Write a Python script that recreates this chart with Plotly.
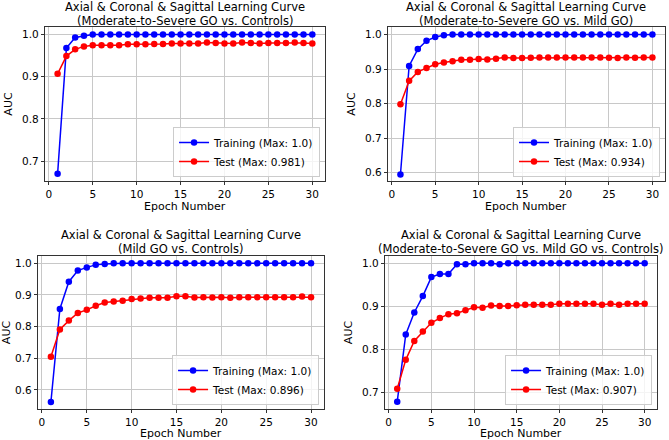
import plotly.graph_objects as go

epochs = list(range(1, 31))

title_line1 = "Axial & Coronal & Sagittal Learning Curve"
title_line2 = [
    "(Moderate-to-Severe GO vs. Controls)",
    "(Moderate-to-Severe GO vs. Mild GO)",
    "(Mild GO vs. Controls)",
    "(Moderate-to-Severe GO vs. Mild GO vs. Controls)",
]

train_1 = [0.670, 0.968, 0.993, 0.997, 1.0, 1.0, 1.0, 1.0, 1.0, 1.0, 1.0, 1.0, 1.0, 1.0, 1.0,
           1.0, 1.0, 1.0, 1.0, 1.0, 1.0, 1.0, 1.0, 1.0, 1.0, 1.0, 1.0, 1.0, 1.0, 1.0]
test_1 = [0.907, 0.949, 0.965, 0.972, 0.975, 0.975, 0.975, 0.975, 0.977, 0.977, 0.977, 0.978,
          0.978, 0.979, 0.979, 0.979, 0.979, 0.981, 0.980, 0.979, 0.979, 0.981, 0.980, 0.979,
          0.980, 0.980, 0.980, 0.981, 0.980, 0.979]

train_2 = [0.595, 0.909, 0.958, 0.982, 0.993, 0.998, 1.0, 1.0, 1.0, 1.0, 1.0, 1.0, 1.0, 1.0, 1.0,
           1.0, 1.0, 1.0, 1.0, 1.0, 1.0, 1.0, 1.0, 1.0, 1.0, 1.0, 1.0, 1.0, 1.0, 1.0]
test_2 = [0.798, 0.866, 0.892, 0.903, 0.914, 0.919, 0.923, 0.927, 0.927, 0.929, 0.928, 0.930,
          0.934, 0.932, 0.932, 0.933, 0.934, 0.934, 0.934, 0.934, 0.934, 0.934, 0.934, 0.934,
          0.933, 0.932, 0.934, 0.933, 0.934, 0.934]

train_3 = [0.562, 0.856, 0.942, 0.977, 0.987, 0.995, 0.998, 1.0, 1.0, 1.0, 1.0, 1.0, 1.0, 1.0, 1.0,
           1.0, 1.0, 1.0, 1.0, 1.0, 1.0, 1.0, 1.0, 1.0, 1.0, 1.0, 1.0, 1.0, 1.0, 1.0]
test_3 = [0.705, 0.791, 0.819, 0.843, 0.853, 0.866, 0.876, 0.879, 0.882, 0.887, 0.889, 0.891,
          0.891, 0.891, 0.896, 0.896, 0.892, 0.893, 0.892, 0.893, 0.891, 0.893, 0.893, 0.893,
          0.893, 0.893, 0.893, 0.893, 0.895, 0.893]

train_4 = [0.679, 0.835, 0.886, 0.924, 0.968, 0.975, 0.975, 0.998, 0.998, 1.0, 1.0, 1.0, 0.998,
           1.0, 1.0, 1.0, 1.0, 1.0, 1.0, 1.0, 1.0, 1.0, 1.0, 1.0, 1.0, 1.0, 1.0, 1.0, 1.0, 1.0]
test_4 = [0.709, 0.776, 0.820, 0.842, 0.862, 0.873, 0.882, 0.884, 0.891, 0.898, 0.897, 0.902,
          0.901, 0.901, 0.903, 0.904, 0.904, 0.904, 0.904, 0.906, 0.906, 0.906, 0.906, 0.906,
          0.904, 0.906, 0.904, 0.906, 0.906, 0.906]

train_max = ["1.0", "1.0", "1.0", "1.0"]
test_max = ["0.981", "0.934", "0.896", "0.907"]

trains = [train_1, train_2, train_3, train_4]
tests = [test_1, test_2, test_3, test_4]

W, H = 669, 440
# plot areas in pixels: (left, right, top, bottom)
boxes = [(43, 324, 27, 181), (387, 665, 27, 181), (36, 323, 256, 409), (384, 657, 256, 409)]
# title line centres and x-axis title centre, in pixels
title_y = [(7, 21), (7, 21), (235, 249), (235, 249)]
xlabel_y = [206, 206, 433, 433]
yranges = [[0.653, 1.018], [0.576, 1.022], [0.540, 1.023], [0.662, 1.017]]
yticks = [[0.7, 0.8, 0.9, 1.0], [0.6, 0.7, 0.8, 0.9, 1.0],
          [0.6, 0.7, 0.8, 0.9, 1.0], [0.7, 0.8, 0.9, 1.0]]

FONT = "DejaVu Sans"
fig = go.Figure()
layout = dict(
    width=W, height=H, margin=dict(l=0, r=0, t=0, b=0),
    paper_bgcolor="white", plot_bgcolor="white",
    font=dict(family=FONT, size=11, color="black"),
    annotations=[],
)

for i in range(4):
    n = "" if i == 0 else str(i + 1)
    L, R, T, B = boxes[i]
    xd = [L / W, R / W]
    yd = [1 - B / H, 1 - T / H]
    leg = "legend" if i == 0 else f"legend{i + 1}"
    fig.add_trace(go.Scatter(
        x=epochs, y=trains[i], mode="lines+markers",
        name=f"Training (Max: {train_max[i]})",
        line=dict(color="#0000ff", width=1.5), marker=dict(color="#0000ff", size=6.5),
        xaxis="x" + n, yaxis="y" + n, legend=leg,
    ))
    fig.add_trace(go.Scatter(
        x=epochs, y=tests[i], mode="lines+markers",
        name=f"Test (Max: {test_max[i]})",
        line=dict(color="#ff0000", width=1.5), marker=dict(color="#ff0000", size=6.5),
        xaxis="x" + n, yaxis="y" + n, legend=leg,
    ))
    axcommon = dict(showgrid=True, gridcolor="#c8c8c8", gridwidth=1,
                    showline=True, linecolor="#333333", linewidth=1, mirror=True,
                    ticks="outside", ticklen=3, tickcolor="#333333",
                    tickfont=dict(size=10.5, family=FONT, color="black"), zeroline=False)
    layout["xaxis" + n] = dict(domain=xd, anchor="y" + n, range=[-0.45, 31.45],
                               tickmode="array", tickvals=[0, 5, 10, 15, 20, 25, 30],
                               **axcommon)
    layout["yaxis" + n] = dict(domain=yd, anchor="x" + n, range=yranges[i],
                               tickmode="array", tickvals=yticks[i], tickformat=".1f",
                               title=dict(text="AUC", font=dict(size=11), standoff=7),
                               **axcommon)
    layout[leg] = dict(
        x=(R - 5) / W, y=1 - (B - 4) / H, xanchor="right", yanchor="bottom",
        bgcolor="rgba(255,255,255,0.8)", bordercolor="#cccccc", borderwidth=1,
        font=dict(size=10.5, family=FONT), tracegroupgap=0, itemwidth=30,
    )
    for txt, yc in zip([title_line1, title_line2[i]], title_y[i]):
        layout["annotations"].append(dict(
            text=txt, xref="paper", yref="paper",
            x=(L + R) / 2 / W, y=1 - yc / H, xanchor="center", yanchor="middle",
            showarrow=False, font=dict(size=11.5, family=FONT, color="black"),
        ))
    layout["annotations"].append(dict(
        text="Epoch Number", xref="paper", yref="paper",
        x=(L + R) / 2 / W, y=1 - xlabel_y[i] / H, xanchor="center", yanchor="middle",
        showarrow=False, borderpad=0, font=dict(size=11, family=FONT, color="black"),
    ))

fig.update_layout(**layout)
fig.write_html("out.html", config={"displayModeBar": False},
               post_script="document.body.style.margin='0';")
